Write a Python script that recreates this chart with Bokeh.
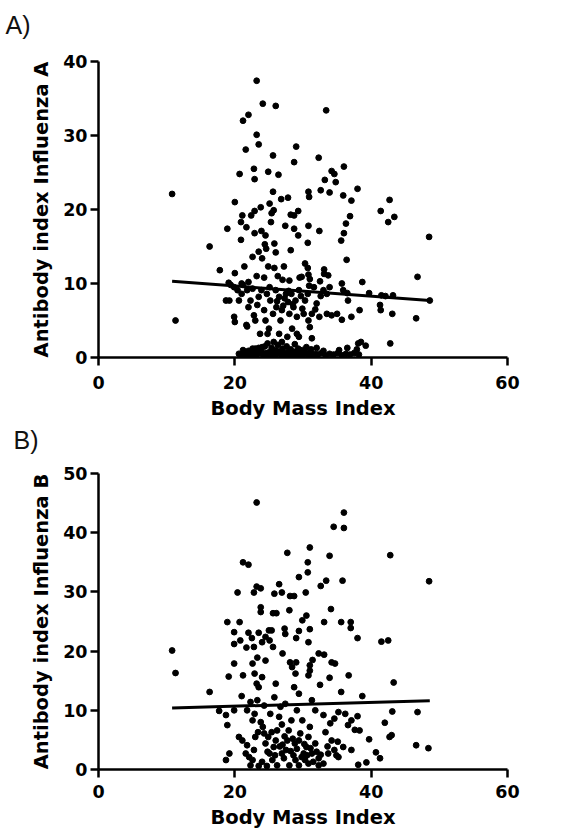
from bokeh.plotting import figure
from bokeh.layouts import column
from bokeh.models import FixedTicker, Range1d, Title
from bokeh.embed import file_html
from bokeh.resources import INLINE

# ---------------- data ----------------
x_ticks = [0, 20, 40, 60]
a_ticks = [0, 10, 20, 30, 40]
b_ticks = [0, 10, 20, 30, 40, 50]

fit_bmi = [10.8, 48.6]
fit_a = [10.3, 7.7]
fit_b = [10.4, 11.6]

# Panel A: (BMI, antibody index influenza A)
a_pairs = [
    (10.8, 22.1), (11.3, 5.0), (16.3, 15.0), (17.8, 11.8), (18.9, 17.4), (20.0, 21.0),
    (20.7, 24.8), (20.9, 18.3), (20.9, 15.9), (21.1, 19.2), (21.2, 32.0), (22.0, 32.8),
    (21.6, 28.1), (21.7, 17.6), (21.4, 12.3), (20.0, 11.4), (22.4, 19.2), (22.9, 19.8),
    (23.2, 37.4), (24.1, 34.3), (23.2, 30.1), (23.5, 28.8), (22.8, 25.5), (22.9, 24.1),
    (23.8, 20.3), (22.9, 16.8), (23.9, 17.1), (24.5, 16.5), (24.4, 15.3), (24.6, 14.7),
    (23.5, 14.3), (24.0, 13.4), (22.6, 13.6), (24.9, 12.3), (26.0, 34.0), (25.6, 27.3),
    (24.9, 25.1), (26.4, 24.7), (25.6, 22.4), (25.1, 20.8), (25.7, 19.9), (25.4, 19.5),
    (25.3, 18.3), (25.8, 15.4), (26.0, 14.2), (25.8, 12.1), (27.2, 12.3), (26.8, 21.4),
    (27.8, 21.6), (27.4, 17.8), (28.2, 14.5), (28.2, 19.3), (28.7, 19.2), (29.0, 28.5),
    (28.7, 26.4), (29.3, 19.8), (28.7, 17.4), (29.3, 16.5), (30.3, 12.7), (30.7, 12.1),
    (30.8, 11.2), (30.8, 17.8), (30.8, 22.4), (30.9, 21.7), (30.7, 15.5), (32.3, 27.0),
    (32.6, 22.6), (32.4, 17.1), (33.1, 11.9), (33.1, 11.3), (33.4, 33.4), (33.2, 24.0),
    (33.9, 22.3), (34.2, 25.2), (34.6, 24.8), (34.8, 23.7), (36.0, 25.8), (35.9, 21.9),
    (37.1, 21.2), (38.0, 22.8), (36.9, 19.1), (36.3, 18.1), (36.0, 16.8), (35.6, 15.8),
    (36.4, 13.2), (41.4, 19.8), (42.7, 21.3), (42.5, 18.3), (43.4, 19.0), (48.5, 16.3),
    (46.8, 10.9), (48.6, 7.7), (46.6, 5.3), (42.8, 1.9), (43.1, 5.9), (41.4, 6.4),
    (41.3, 7.1), (41.5, 8.4), (42.1, 8.3), (43.2, 8.4), (39.7, 8.7), (38.7, 10.2),
    (38.3, 6.4), (38.5, 2.1), (39.2, 1.6), (38.1, 1.9), (37.9, 1.1), (37.1, 5.5),
    (36.5, 8.7), (35.9, 9.1), (35.7, 10.0), (35.0, 5.9), (34.2, 5.7), (33.5, 5.9),
    (35.7, 5.1), (36.6, 7.7), (33.9, 9.5), (33.5, 8.6), (33.7, 11.1),
    (27.0, 10.5), (26.3, 11.0), (28.0, 10.4), (29.5, 10.8), (31.0, 10.6), (32.5, 10.3),
    (24.3, 10.8), (23.2, 11.0), (22.0, 10.2), (21.0, 10.0),
    (19.2, 7.7), (18.7, 7.7), (19.1, 10.1), (19.4, 9.8), (19.9, 9.5), (20.4, 9.1),
    (19.9, 5.5), (20.0, 4.8), (20.6, 7.7), (21.0, 8.6), (21.2, 9.8), (21.8, 9.1),
    (21.7, 4.4), (21.8, 4.2), (22.0, 6.8), (22.3, 7.7), (22.8, 5.7), (23.0, 5.0),
    (23.3, 7.1), (23.5, 8.2), (23.9, 9.1), (24.3, 6.4), (24.5, 5.0), (23.7, 3.2),
    (25.0, 3.9), (24.8, 3.2), (25.2, 7.7), (25.6, 5.9), (26.0, 9.1), (26.1, 6.8),
    (26.5, 8.2), (26.7, 5.0), (26.9, 6.4), (27.3, 8.0), (27.5, 8.6), (27.8, 7.5),
    (28.0, 5.9), (28.3, 8.6), (28.6, 6.8), (28.9, 7.7), (29.1, 5.5), (29.4, 9.1),
    (29.8, 10.9), (30.1, 5.9), (30.3, 7.7), (30.7, 8.6), (30.8, 5.0), (31.0, 4.1),
    (31.3, 5.9), (31.6, 9.5), (32.0, 7.3), (32.4, 5.5), (33.0, 9.1), (26.5, 3.2),
    (27.7, 2.8), (28.4, 3.9), (29.1, 3.2), (26.9, 2.1), (25.7, 2.1), (29.4, 2.8),
    (31.3, 2.6), (24.0, 1.4), (23.0, 1.0),
    (25.1, 9.5), (27.9, 9.0), (28.5, 7.2), (27.1, 7.0), (26.2, 7.6), (29.7, 8.3),
    (24.7, 8.6), (22.6, 9.3), (30.9, 9.7), (32.6, 8.3), (31.8, 6.5), (29.9, 6.6),
    (20.6, 0.5), (21.0, 0.4), (21.4, 0.7), (21.7, 0.3), (22.1, 0.6), (22.4, 0.4),
    (22.8, 0.7), (23.1, 0.3), (23.4, 0.5), (23.8, 0.8), (24.1, 0.4), (24.4, 0.6),
    (24.7, 0.3), (25.0, 0.7), (25.3, 0.4), (25.6, 0.6), (25.9, 0.3), (26.2, 0.5),
    (26.5, 0.8), (26.8, 0.4), (27.1, 0.6), (27.4, 0.3), (27.7, 0.7), (28.0, 0.4),
    (28.3, 0.6), (28.6, 0.3), (28.9, 0.8), (29.2, 0.4), (29.5, 0.6), (29.8, 0.3),
    (30.1, 0.5), (30.4, 0.7), (30.7, 0.4), (31.0, 0.6), (31.4, 0.3), (31.8, 0.5),
    (32.2, 0.4), (32.7, 0.6), (33.3, 0.3), (33.9, 0.5), (34.5, 0.4), (35.1, 0.6),
    (35.7, 0.3), (36.3, 0.5), (36.9, 0.4), (37.5, 0.6), (38.2, 0.4),
    (21.2, 1.0), (22.0, 0.9), (23.0, 1.2), (24.4, 1.5), (24.8, 1.9), (25.4, 1.3),
    (26.0, 1.0), (26.3, 1.7), (27.0, 1.2), (27.6, 1.5), (28.2, 1.1), (28.8, 1.8),
    (29.3, 1.2), (29.9, 1.0), (30.5, 1.4), (31.2, 1.1), (32.0, 1.3), (33.0, 0.9),
    (35.3, 1.0), (36.5, 1.3), (22.6, 1.2), (23.5, 1.3),
]

# Panel B: (BMI, antibody index influenza B)
b_pairs = [
    (10.8, 20.1), (11.3, 16.3), (16.3, 13.1), (17.7, 9.9), (18.9, 24.9), (19.1, 15.7),
    (18.7, 9.2), (18.9, 7.5), (19.2, 2.7), (18.7, 1.6), (19.9, 17.9), (19.9, 23.2),
    (19.9, 21.2), (19.9, 10.0), (20.4, 29.9), (20.7, 24.9), (20.8, 21.8), (21.2, 15.9),
    (21.0, 12.4), (21.2, 35.0), (22.0, 34.6), (21.7, 20.6), (22.0, 23.1), (22.5, 22.2),
    (22.8, 29.9), (23.2, 45.1), (23.2, 30.9), (23.8, 30.6), (23.8, 27.4), (23.8, 26.6),
    (23.5, 23.1), (24.0, 21.5), (22.8, 20.7), (23.3, 18.9), (22.6, 17.9), (22.9, 16.2),
    (23.2, 14.5), (23.5, 13.9), (24.0, 15.6), (24.5, 18.4), (24.5, 22.4), (25.0, 23.5),
    (25.6, 26.4), (26.1, 26.4), (25.4, 23.5), (25.6, 20.7), (25.1, 21.8), (26.0, 14.5),
    (25.8, 12.2), (25.8, 29.7), (26.5, 31.3), (26.9, 29.9), (27.3, 23.8), (27.4, 22.9),
    (27.0, 19.6), (27.7, 36.6), (28.0, 26.9), (28.1, 29.3), (28.7, 29.3), (28.1, 18.1),
    (28.4, 17.3), (28.9, 16.2), (29.0, 18.1), (29.4, 32.5), (29.4, 23.4), (29.0, 22.2),
    (28.7, 13.9), (29.4, 12.8), (29.9, 25.2), (30.4, 29.9), (30.5, 26.0), (30.7, 33.3),
    (30.7, 35.0), (31.0, 37.5), (31.0, 23.7), (30.8, 21.5), (31.0, 17.6), (30.8, 15.9),
    (31.0, 16.7), (31.4, 18.5), (32.3, 19.6), (32.5, 14.3), (32.6, 31.0), (33.4, 31.9),
    (33.1, 24.9), (33.1, 19.4), (33.9, 36.1), (34.1, 27.1), (33.9, 15.5), (34.2, 18.1),
    (34.7, 17.9), (34.5, 41.0), (36.0, 43.4), (36.0, 40.8), (35.8, 31.9), (35.6, 24.9),
    (37.0, 24.9), (37.0, 23.9), (36.7, 15.9), (35.6, 13.1), (38.0, 22.2), (38.7, 12.4),
    (42.8, 36.2), (41.5, 21.6), (42.5, 21.8), (43.3, 14.7), (43.1, 9.8), (42.0, 7.9),
    (43.0, 5.8), (42.7, 5.5), (48.5, 31.8), (46.8, 9.7), (46.6, 4.1), (48.4, 3.6),
    (39.7, 5.1), (40.7, 2.9), (41.3, 1.9), (39.3, 1.2), (38.1, 0.8), (37.6, 6.7),
    (38.3, 6.6), (38.0, 9.0), (37.1, 8.3), (36.6, 7.5), (36.2, 9.4), (35.2, 9.7),
    (34.6, 8.6), (34.0, 7.8), (33.0, 9.2), (33.3, 6.3), (34.2, 4.9), (35.1, 4.7),
    (35.9, 3.8), (37.1, 3.3), (34.6, 3.3), (33.7, 2.7), (35.2, 2.1), (33.0, 1.0),
    (20.6, 5.5), (21.1, 4.9), (21.8, 4.1), (21.6, 2.7), (22.1, 2.1), (22.6, 1.6),
    (22.3, 0.7), (22.8, 3.3), (23.0, 5.5), (23.4, 6.3), (22.6, 8.3), (22.9, 9.4),
    (23.3, 11.7), (24.3, 10.8), (23.8, 8.0), (24.3, 6.1), (24.5, 4.4), (24.9, 5.5),
    (25.1, 2.7), (25.5, 1.6), (25.7, 3.8), (26.0, 4.9), (26.2, 6.6), (26.5, 8.9),
    (26.7, 10.6), (26.9, 2.7), (27.2, 1.9), (27.5, 3.3), (27.7, 4.9), (27.9, 6.6),
    (28.3, 8.3), (28.6, 2.4), (28.9, 1.6), (29.1, 3.5), (29.4, 4.9), (29.6, 6.1),
    (29.9, 8.3), (30.1, 2.7), (30.3, 1.6), (30.5, 3.8), (30.8, 5.5), (31.0, 7.2),
    (31.3, 2.7), (31.5, 1.3), (31.8, 4.4), (32.0, 3.0), (32.3, 1.9), (31.8, 10.0),
    (31.3, 11.7), (29.1, 10.0), (27.4, 11.1), (25.2, 9.4), (24.0, 1.3), (23.5, 0.6),
    (24.7, 0.6), (26.2, 0.7), (28.0, 0.7), (29.4, 0.7), (30.8, 1.0), (32.3, 0.7),
    (21.8, 10.0), (22.3, 11.4),
    (24.8, 3.0), (25.9, 2.4), (26.6, 3.9), (27.3, 5.6), (28.2, 3.1), (28.8, 4.4),
    (29.8, 2.1), (30.6, 2.4), (31.1, 3.6), (27.0, 4.2), (25.4, 6.3), (24.1, 7.2),
    (26.9, 7.6), (28.5, 5.2), (30.2, 4.3), (32.6, 2.5), (33.6, 3.9), (34.9, 2.4),
]

a_bmi = [p[0] for p in a_pairs]
a_index = [p[1] for p in a_pairs]
b_bmi = [p[0] for p in b_pairs]
b_index = [p[1] for p in b_pairs]

AXIS_FONT = "DejaVu Sans"
LEFT = 98


def make_panel(label, label_px, spacer, ylabel, xs, ys, fy, ymax, yticks,
               height, top, bottom, tick_standoff, xlabel_standoff):
    p = figure(width=564, height=height, output_backend="svg", toolbar_location=None,
               x_range=Range1d(0, 60), y_range=Range1d(0, ymax),
               min_border_left=LEFT, min_border_right=57, min_border_top=top,
               min_border_bottom=bottom)
    p.outline_line_color = None
    p.grid.visible = False
    p.background_fill_color = "white"
    p.border_fill_color = "white"

    # invisible spacer between frame and panel letter
    p.add_layout(Title(text=" ", text_font_size="1px", standoff=spacer), "above")
    p.title.text = label
    p.title.text_font = "Liberation Sans"
    p.title.text_font_size = "25px"
    p.title.text_font_style = "normal"
    p.title.text_color = "#111111"
    p.title.align = "left"
    p.title.offset = label_px - LEFT
    p.title.standoff = 0

    p.scatter(xs, ys, size=5.8, color="black")
    p.line(fit_bmi, fy, line_width=3, color="black")

    for ax in (p.xaxis[0], p.yaxis[0]):
        ax.axis_line_width = 2.5
        ax.axis_line_color = "black"
        ax.major_tick_line_width = 2.5
        ax.major_tick_line_color = "black"
        ax.major_tick_out = 8
        ax.major_tick_in = 0
        ax.minor_tick_line_color = None
        ax.major_label_text_font = AXIS_FONT
        ax.major_label_text_font_style = "bold"
        ax.major_label_text_font_size = "17.5px"
        ax.major_label_text_color = "black"
        ax.axis_label_text_font = AXIS_FONT
        ax.axis_label_text_font_style = "bold"
        ax.axis_label_text_font_size = "19.5px"
        ax.axis_label_text_color = "black"
    p.xaxis.ticker = FixedTicker(ticks=x_ticks)
    p.yaxis.ticker = FixedTicker(ticks=yticks)
    p.xaxis.axis_label = "Body Mass Index"
    p.yaxis.axis_label = ylabel
    p.xaxis.major_label_standoff = tick_standoff
    p.yaxis.major_label_standoff = 3
    p.xaxis.axis_label_standoff = xlabel_standoff
    p.yaxis.axis_label_standoff = 7
    return p


pa = make_panel("A)", 5, 20, "Antibody index Influenza A", a_bmi, a_index, fit_a, 40,
                a_ticks, 422, 61, 65, 10, 5)
pb = make_panel("B)", 13, 17, "Antibody index Influenza B", b_bmi, b_index, fit_b, 50,
                b_ticks, 409, 51, 62, 7, 5)

layout = column(pa, pb, spacing=0)
open("out.html", "w").write(file_html(layout, INLINE))
